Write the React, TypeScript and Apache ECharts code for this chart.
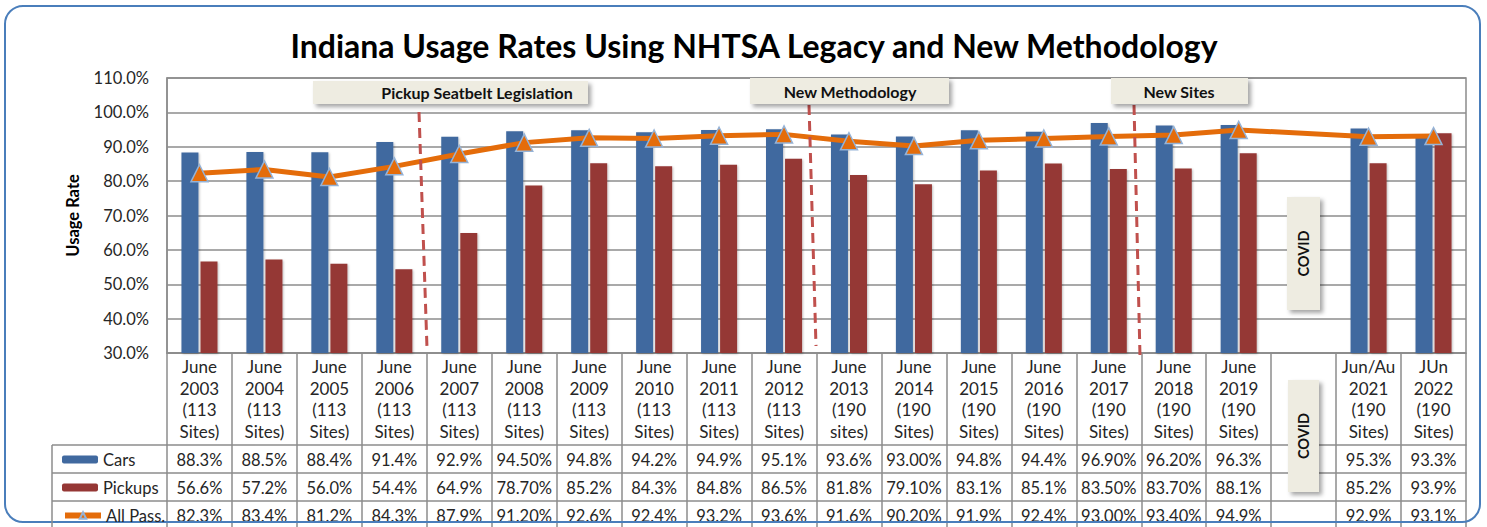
import React, { useEffect, useRef } from "react";
import * as echarts from "echarts";

const TITLE = "Indiana Usage Rates Using NHTSA Legacy and New Methodology";

const categories = [
  "June\n2003\n(113\nSites)", "June\n2004\n(113\nSites)", "June\n2005\n(113\nSites)",
  "June\n2006\n(113\nSites)", "June\n2007\n(113\nSites)", "June\n2008\n(113\nSites)",
  "June\n2009\n(113\nSites)", "June\n2010\n(113\nSites)", "June\n2011\n(113\nSites)",
  "June\n2012\n(113\nSites)", "June\n2013\n(190\nsites)", "June\n2014\n(190\nSites)",
  "June\n2015\n(190\nSites)", "June\n2016\n(190\nSites)", "June\n2017\n(190\nSites)",
  "June\n2018\n(190\nSites)", "June\n2019\n(190\nSites)", "",
  "Jun/Au\n2021\n(190\nSites)", "JUn\n2022\n(190\nSites)",
];

const carsValues = [88.3, 88.5, 88.4, 91.4, 92.9, 94.5, 94.8, 94.2, 94.9, 95.1, 93.6, 93.0, 94.8, 94.4, 96.9, 96.2, 96.3, null, 95.3, 93.3];
const pickupsValues = [56.6, 57.2, 56.0, 54.4, 64.9, 78.7, 85.2, 84.3, 84.8, 86.5, 81.8, 79.1, 83.1, 85.1, 83.5, 83.7, 88.1, null, 85.2, 93.9];
const allPassValues = [82.3, 83.4, 81.2, 84.3, 87.9, 91.2, 92.6, 92.4, 93.2, 93.6, 91.6, 90.2, 91.9, 92.4, 93.0, 93.4, 94.9, null, 92.9, 93.1];

const carsLabels = ["88.3%", "88.5%", "88.4%", "91.4%", "92.9%", "94.50%", "94.8%", "94.2%", "94.9%", "95.1%", "93.6%", "93.00%", "94.8%", "94.4%", "96.90%", "96.20%", "96.3%", "", "95.3%", "93.3%"];
const pickupsLabels = ["56.6%", "57.2%", "56.0%", "54.4%", "64.9%", "78.70%", "85.2%", "84.3%", "84.8%", "86.5%", "81.8%", "79.10%", "83.1%", "85.1%", "83.50%", "83.70%", "88.1%", "", "85.2%", "93.9%"];
const allPassLabels = ["82.3%", "83.4%", "81.2%", "84.3%", "87.9%", "91.20%", "92.6%", "92.4%", "93.2%", "93.6%", "91.6%", "90.20%", "91.9%", "92.4%", "93.00%", "93.40%", "94.9%", "", "92.9%", "93.1%"];

const seriesNames = ["Cars", "Pickups", "All Pass."];
const Y_MIN = 30;
const Y_MAX = 110;
const Y_STEP = 10;

const FONT = "Lato";
const GRID_COLOR = "#8c8c8c";
const TEXT_COLOR = "#262626";

function noteBox(x: number, y: number, w: number, h: number, label: string, tx: number) {
  return {
    type: "group",
    children: [
      {
        type: "rect",
        shape: { x, y, width: w, height: h },
        style: { fill: "#eeece1", shadowBlur: 4, shadowOffsetX: 3, shadowOffsetY: 3, shadowColor: "rgba(0,0,0,0.35)" },
        z: 20,
      },
      {
        type: "text",
        x: tx,
        y: y + h / 2,
        style: { text: label, align: "center", verticalAlign: "middle", fontFamily: FONT, fontWeight: "bold", fontSize: 16, fill: "#111" },
        z: 21,
      },
    ],
  };
}

function covidBox(x: number, y: number, w: number, h: number) {
  return {
    type: "group",
    children: [
      {
        type: "rect",
        shape: { x, y, width: w, height: h },
        style: { fill: "#eeece1", shadowBlur: 4, shadowOffsetX: 3, shadowOffsetY: 3, shadowColor: "rgba(0,0,0,0.35)" },
        z: 20,
      },
      {
        type: "text",
        x: x + w / 2,
        y: y + h / 2,
        rotation: Math.PI / 2,
        style: { text: "COVID", align: "center", verticalAlign: "middle", fontFamily: FONT, fontWeight: "bold", fontSize: 14.5, fill: "#111" },
        z: 21,
      },
    ],
  };
}

function dashed(x1: number, y1: number, x2: number, y2: number) {
  return {
    type: "line",
    shape: { x1, y1, x2, y2 },
    style: { stroke: "#c0504d", lineWidth: 3, lineDash: [10, 6] },
    z: 15,
  };
}

function hline(x1: number, x2: number, y: number) {
  return { type: "line", shape: { x1, y1: y, x2, y2: y }, style: { stroke: GRID_COLOR, lineWidth: 1.5 }, z: 5 };
}

function legendRow(name: string, top: number) {
  return {
    data: [name],
    orient: "horizontal",
    left: 57,
    top,
    itemWidth: 36,
    itemHeight: 8,
    selectedMode: false,
    lineStyle: { width: 6 },
    textStyle: { fontFamily: FONT, fontSize: 16.5, color: TEXT_COLOR },
  };
}

export default function App() {
  const ref = useRef<HTMLDivElement>(null);

  useEffect(() => {
    if (!ref.current) return;
    const chart = echarts.init(ref.current, null, { renderer: "svg" });

    const tableAxis = (labels: string[], offset: number) => ({
      type: "category",
      data: labels,
      position: "bottom",
      offset,
      axisLine: { show: true, lineStyle: { color: GRID_COLOR, width: 1.5 } },
      axisTick: { show: false },
      axisLabel: { interval: 0, fontFamily: FONT, fontSize: 16.5, color: TEXT_COLOR, margin: 6 },
    });

    const option: any = {
      animation: false,
      backgroundColor: "#ffffff",
      grid: { left: 167, right: 21, top: 78, bottom: 174, show: true, borderColor: GRID_COLOR, borderWidth: 1.5 },
      legend: [
        legendRow(seriesNames[0], 446),
        legendRow(seriesNames[1], 474),
        legendRow(seriesNames[2], 502),
      ],
      xAxis: [
        {
          type: "category",
          data: categories,
          position: "bottom",
          axisLine: { show: true, lineStyle: { color: GRID_COLOR, width: 1.5 } },
          axisTick: { show: true, interval: 0, length: 180, lineStyle: { color: GRID_COLOR, width: 1.5 } },
          axisLabel: { interval: 0, fontFamily: FONT, fontSize: 17, lineHeight: 21.5, color: TEXT_COLOR, margin: 3 },
        },
        tableAxis(carsLabels, 92),
        tableAxis(pickupsLabels, 120),
        tableAxis(allPassLabels, 148),
      ],
      yAxis: {
        type: "value",
        min: Y_MIN,
        max: Y_MAX,
        interval: Y_STEP,
        name: "Usage Rate",
        nameLocation: "middle",
        nameGap: 86,
        nameTextStyle: { fontFamily: FONT, fontWeight: "bold", fontSize: 16.5, color: "#000" },
        axisLine: { show: true, lineStyle: { color: GRID_COLOR, width: 1.5 } },
        axisTick: { show: false },
        splitLine: { lineStyle: { color: GRID_COLOR, width: 1.5 } },
        axisLabel: { formatter: (v: number) => v.toFixed(1) + "%", fontFamily: FONT, fontSize: 16.5, color: TEXT_COLOR, margin: 18 },
      },
      series: [
        {
          name: seriesNames[0],
          type: "bar",
          data: carsValues,
          barWidth: 17,
          barGap: "12%",
          itemStyle: { color: "#40699f", shadowBlur: 2, shadowOffsetX: 1, shadowOffsetY: 1, shadowColor: "rgba(0,0,0,0.25)" },
        },
        {
          name: seriesNames[1],
          type: "bar",
          data: pickupsValues,
          barWidth: 17,
          barGap: "12%",
          itemStyle: { color: "#953735", shadowBlur: 2, shadowOffsetX: 1, shadowOffsetY: 1, shadowColor: "rgba(0,0,0,0.25)" },
        },
        {
          name: seriesNames[2],
          type: "line",
          data: allPassValues,
          connectNulls: true,
          symbol: "triangle",
          symbolSize: 17,
          z: 5,
          lineStyle: { color: "#e46c0a", width: 5 },
          itemStyle: { color: "#e46c0a", borderColor: "#95b3d7", borderWidth: 1.5 },
        },
      ],
      graphic: [
        {
          type: "rect",
          shape: { x: 5, y: 6, width: 1475, height: 516, r: 18 },
          style: { fill: "none", stroke: "#4a7ebb", lineWidth: 2 },
          z: 1,
        },
        {
          type: "text",
          x: 754,
          y: 45,
          style: { text: TITLE, align: "center", verticalAlign: "middle", fontFamily: FONT, fontWeight: "bold", fontSize: 32, fill: "#000" },
          z: 10,
        },
        hline(52, 167, 445),
        hline(52, 167, 473),
        hline(52, 167, 501),
        { type: "line", shape: { x1: 52, y1: 445, x2: 52, y2: 530 }, style: { stroke: GRID_COLOR, lineWidth: 1.5 }, z: 5 },
        dashed(419, 112, 427, 348),
        dashed(809, 105, 816, 346),
        dashed(1134, 105, 1140, 356),
        noteBox(313, 81, 275, 23, "Pickup Seatbelt Legislation", 477),
        noteBox(750, 78, 199, 26, "New Methodology", 850),
        noteBox(1111, 78, 137, 26, "New Sites", 1179),
        covidBox(1287, 197, 33, 113),
        covidBox(1288, 380, 31, 112),
      ],
    };

    chart.setOption(option);
    return () => chart.dispose();
  }, []);

  return <div ref={ref} style={{ position: "fixed", left: 0, top: 0, width: 1487, height: 527 }} />;
}
